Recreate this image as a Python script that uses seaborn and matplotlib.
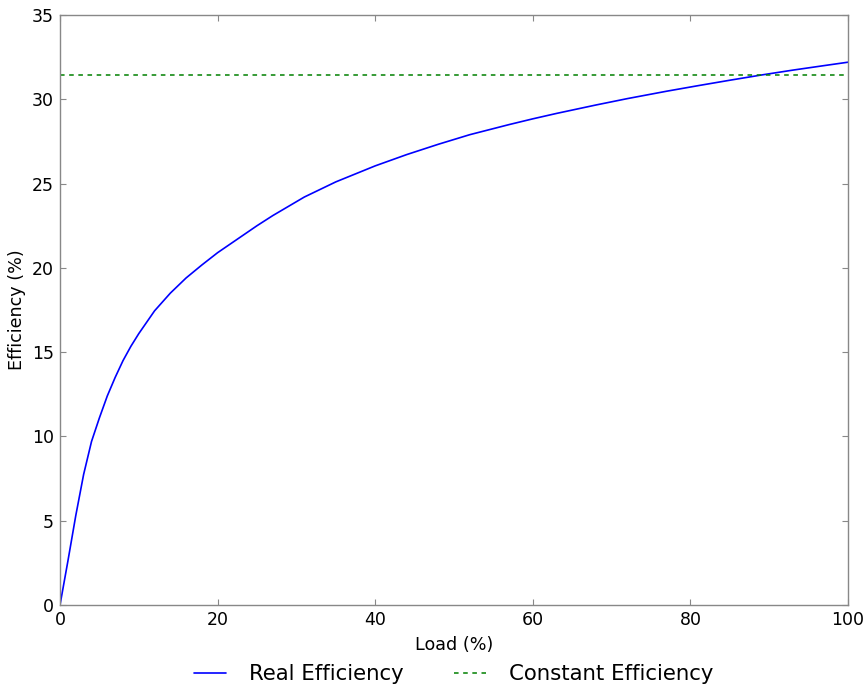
import matplotlib
matplotlib.use("Agg")
import matplotlib.pyplot as plt
import seaborn as sns
import pandas as pd

load = [0, 1, 2, 3, 4, 5, 6, 7, 8, 9, 10, 12, 14, 16, 18, 20, 25, 27, 31, 35,
        40, 44, 48, 52, 57, 60, 63, 68, 72, 77, 81, 85, 89, 93, 97, 100]
real_eff = [0.0, 2.6, 5.3, 7.75, 9.7, 11.1, 12.4, 13.5, 14.5, 15.35, 16.1,
            17.45, 18.5, 19.4, 20.17, 20.9, 22.5, 23.1, 24.2, 25.1, 26.05,
            26.72, 27.33, 27.9, 28.5, 28.84, 29.16, 29.66, 30.04, 30.48, 30.81,
            31.13, 31.44, 31.73, 32.0, 32.2]
const_eff = 31.44

labels = ["Real Efficiency", "Constant Efficiency"]

sns.set_style("white")
plt.rcParams["font.family"] = ["DejaVu Sans"]
plt.rcParams["text.color"] = "black"
plt.rcParams["axes.labelcolor"] = "black"
plt.rcParams["xtick.color"] = "black"
plt.rcParams["ytick.color"] = "black"

df = pd.DataFrame({"Load": load, "Eff": real_eff})

fig = plt.figure(figsize=(8.66, 6.89), dpi=100)
ax = fig.add_axes([60/866, 1-605/689, (848-60)/866, (605-15)/689])

sns.lineplot(data=df, x="Load", y="Eff", ax=ax, color=(0, 0, 1), lw=1.2,
             label=labels[0])
ax.axhline(const_eff, color=(0, 0.5, 0), lw=1.1, ls=(0, (3, 3)),
           label=labels[1])

ax.set_xlim(0, 100)
ax.set_ylim(0, 35)
ax.set_xlabel("Load (%)", fontsize=12.6, labelpad=5)
ax.set_ylabel("Efficiency (%)", fontsize=12.6, labelpad=4)
ax.tick_params(axis="both", which="both", direction="in", length=4,
               color="#888888", labelcolor="black", labelsize=12.5,
               top=True, right=True, bottom=True, left=True)
ax.tick_params(axis="x", pad=4)
ax.tick_params(axis="y", pad=4.5)
for s in ax.spines.values():
    s.set_visible(True)
    s.set_color("#888888")
    s.set_linewidth(1.0)

handles, lbls = ax.get_legend_handles_labels()
if ax.get_legend():
    ax.get_legend().remove()
fig.legend(handles, lbls, loc="center", bbox_to_anchor=(454/866, 1-674/689),
           ncol=2, frameon=False, fontsize=15.3, columnspacing=2.35,
           handlelength=1.5, handletextpad=1.1, labelcolor="black")

fig.savefig("out.png", dpi=100)
